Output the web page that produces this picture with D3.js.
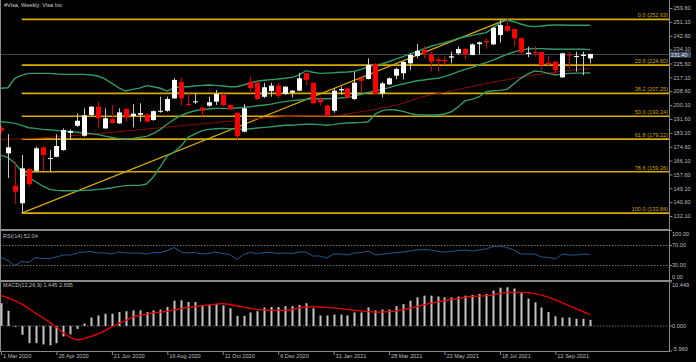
<!DOCTYPE html>
<html><head><meta charset="utf-8">
<script src="https://cdn.jsdelivr.net/npm/d3@7"></script>
<style>html,body{margin:0;padding:0;background:#000;overflow:hidden}svg{display:block}</style>
</head><body><svg id="c" width="696" height="362"></svg>
<script>
const titleText = "#Visa, Weekly:  Visa Inc";
const openP = [186.0,170.5,150.6,139.9,160.9,159.8,174.2,167.0,168.4,172.5,
183.1,187.4,181.3,194.0,199.1,185.8,191.5,188.9,197.7,193.4,
194.2,194.4,190.9,196.0,196.6,204.2,214.2,200.7,201.8,198.5,
199.7,202.2,206.3,200.1,195.4,183.8,214.4,213.8,205.2,208.7,
212.0,206.9,207.7,208.9,219.6,213.8,203.6,199.9,196.6,209.1,
210.4,203.8,216.5,216.1,225.3,207.3,212.8,218.1,219.6,225.7,
230.2,234.0,231.2,228.1,227.7,229.2,231.8,234.5,230.8,237.5,
239.4,237.3,243.0,248.6,246.7,241.2,231.4,232.6,232.6,226.1,
226.7,217.1,231.0,229.6,230.2,228.7];
const highP = [187.5,182.3,165.4,169.5,161.5,174.5,174.8,172.5,182.2,185.8,
185.2,195.0,198.1,199.5,202.2,198.1,200.1,198.1,198.1,200.7,
201.2,195.0,196.9,205.2,205.2,216.7,217.1,207.3,207.3,199.1,
205.2,209.3,207.3,200.5,195.8,200.7,217.5,214.8,213.7,213.8,
213.8,211.8,209.3,219.9,219.9,214.2,205.2,200.3,210.4,211.3,
211.0,220.5,217.0,228.8,225.7,214.2,217.1,223.0,226.9,231.8,
237.5,236.3,232.8,229.8,229.8,232.8,235.9,234.9,237.9,239.0,
241.0,248.2,252.2,252.63,247.1,241.4,235.9,236.3,232.6,230.2,
226.7,232.2,232.8,232.8,232.8,231.6];
const lowP = [182.5,155.4,139.4,133.84,150.0,158.8,159.8,159.2,168.1,172.1,
178.7,186.8,180.7,193.5,186.5,185.5,188.9,188.5,189.9,186.5,
189.9,189.5,190.5,195.4,196.0,203.8,200.1,199.1,200.7,193.0,
199.1,200.1,199.5,197.0,178.7,183.4,207.3,203.2,204.4,205.2,
204.4,206.3,204.8,208.5,212.4,200.5,199.9,193.4,195.4,206.3,
204.0,203.2,208.3,215.8,206.9,204.8,212.4,215.9,215.9,221.6,
228.8,228.7,220.6,220.6,224.7,225.7,230.8,228.1,230.6,231.2,
234.5,236.9,238.5,245.1,235.9,231.2,229.4,229.8,221.6,223.6,
218.5,216.9,222.6,220.6,218.5,225.7];
const closeP = [184.3,174.2,147.0,161.3,151.7,173.6,169.5,167.6,175.0,184.8,
184.2,190.5,193.8,199.1,192.0,192.0,189.1,195.6,192.4,194.8,
195.2,189.9,196.4,196.6,203.8,215.5,204.2,200.1,202.4,196.6,
201.8,206.9,200.1,197.5,181.1,198.1,210.4,203.8,211.0,212.0,
205.8,211.4,208.9,216.5,215.5,201.2,201.8,194.0,208.9,209.9,
204.8,213.8,215.0,224.7,206.9,213.4,216.5,222.2,226.5,230.8,
233.4,231.8,226.7,227.1,226.9,230.0,234.5,231.2,237.3,238.5,
238.5,247.5,249.2,245.7,241.0,232.4,232.2,232.0,224.6,225.1,
221.6,231.8,230.6,230.2,231.0,231.4];
const bbUpper = [210.4,210.7,216.5,218.5,219.5,219.5,219.5,219.5,219.1,218.9,
218.9,218.9,218.9,218.5,217.9,216.1,213.4,210.7,208.7,209.7,
210.5,212.0,211.3,210.4,208.7,210.7,211.3,211.3,211.8,212.2,
212.4,212.2,211.8,211.3,211.3,212.4,213.8,214.7,215.3,215.7,
216.1,216.5,217.1,218.5,221.2,220.2,219.5,219.7,219.9,220.2,
220.4,220.8,222.0,223.6,224.7,225.3,226.8,228.3,229.8,231.3,
232.8,234.5,236.0,237.3,238.3,239.6,241.0,242.0,242.8,243.7,
244.5,247.1,250.6,252.2,251.2,249.8,248.6,248.2,248.6,249.0,
249.2,249.2,249.0,249.0,249.0,249.0];
const bbMid = [189.9,189.5,188.9,187.7,186.2,185.8,185.2,185.0,184.6,184.2,
183.8,183.4,183.0,182.6,182.0,181.1,180.3,179.5,179.3,179.7,
180.3,180.9,182.8,185.2,188.5,191.3,193.8,195.4,196.6,197.3,
197.7,198.1,198.1,197.9,198.3,198.7,199.1,199.7,200.1,200.7,
201.6,202.2,202.8,203.2,203.6,204.0,204.0,204.0,204.2,204.4,
204.8,205.6,206.7,207.9,208.9,209.7,210.8,212.0,213.0,214.0,
215.0,215.5,216.1,216.5,217.5,218.9,220.6,222.0,223.2,224.7,
226.1,227.7,229.4,231.2,232.6,233.8,234.5,234.7,234.7,234.5,
234.3,234.3,234.3,234.3,234.3,234.1];
const bbLower = [169.3,168.0,164.4,159.3,155.8,153.1,150.5,148.4,147.8,147.6,
147.6,147.6,147.8,148.0,148.4,148.8,149.4,150.1,150.7,150.9,
150.9,151.7,156.2,162.3,168.9,171.5,175.0,180.3,182.4,184.4,
185.2,185.6,185.8,185.6,185.4,185.2,185.6,186.0,186.4,186.8,
187.3,187.7,187.7,188.1,188.3,188.3,188.1,187.7,188.1,188.9,
189.1,189.3,189.5,189.9,194.6,196.7,197.3,197.1,196.2,195.0,
194.2,194.0,194.0,194.0,194.6,196.0,199.1,202.8,203.6,205.2,
208.3,208.9,209.1,209.7,213.0,216.5,219.1,221.0,220.6,219.5,
218.5,219.1,219.5,219.7,219.7,219.9];
const maLine = [179.1,179.2,179.3,179.4,179.6,179.8,180.0,180.3,180.6,180.9,
181.2,181.5,181.8,182.2,182.6,183.0,183.4,183.8,184.2,184.6,
185.0,185.4,185.8,186.2,186.6,187.0,187.4,187.8,188.2,188.6,
189.0,189.4,189.8,190.2,190.6,191.0,191.4,191.8,192.2,192.5,
192.8,193.0,193.2,193.3,193.4,193.4,193.4,193.4,193.6,194.0,
194.6,195.3,196.0,196.7,197.5,198.3,199.1,200.0,201.2,202.6,
204.0,205.4,206.3,207.1,207.9,208.8,209.7,210.6,211.5,212.4,
213.3,214.1,214.9,215.7,216.5,217.3,217.9,218.5,219.1,219.7,
220.3,220.8,221.3,221.7,222.1,222.4];
const rsiVals = [46,40,30,38,36,46,44,44,47,51,
51,55,57,58,55,55,53,57,55,55,
55,53,56,56,60,66,57,55,56,53,
54,57,54,52,42,52,56,54,56,56,
54,55,54,57,57,49,49,45,53,53,
51,55,56,59,51,53,54,56,57,59,
61,62,61,58,57,58,60,61,59,61,
63,68,69,66,61,53,53,53,47,46,
43,53,51,51,53,52.04];
const macdHist = [5.4,3.6,-0.2,-2.1,-4.1,-4.1,-4.4,-4.6,-4.1,-2.5,
-2.0,-0.7,0.6,2.0,2.5,2.9,2.9,3.3,3.5,3.7,
3.7,3.3,3.7,3.9,4.5,6.0,6.1,5.7,5.7,4.9,
5.0,5.2,4.9,4.2,2.4,2.4,3.2,3.5,4.4,4.5,
4.5,4.7,4.7,5.0,5.4,4.2,2.5,2.5,2.7,2.7,
2.5,3.2,3.2,4.4,3.7,3.9,3.9,4.7,5.2,6.0,
6.8,7.2,7.2,7.0,6.8,6.8,7.0,7.2,7.4,7.6,
7.6,8.4,9.1,9.2,8.9,7.8,6.5,5.6,4.4,3.3,
2.3,2.0,2.0,1.7,1.7,1.445];
const macdSignal = [7.2,6.7,6.0,5.2,4.1,3.0,2.0,0.9,-0.3,-1.7,
-2.7,-3.3,-3.0,-2.5,-1.9,-1.1,-0.2,0.6,1.3,2.1,
2.5,2.8,3.1,3.3,3.5,3.8,4.1,4.4,4.6,4.8,
5.0,5.2,5.3,5.1,4.8,4.5,4.2,3.9,3.8,3.7,
3.7,3.7,3.9,4.3,4.5,4.6,4.5,4.4,4.3,4.1,
3.9,3.7,3.6,3.4,3.3,3.3,3.4,3.6,3.9,4.2,
4.6,5.0,5.4,5.7,6.0,6.3,6.5,6.8,7.0,7.1,
7.2,7.4,7.7,7.9,8.0,8.0,7.9,7.7,7.3,6.8,
6.2,5.5,4.8,4.1,3.4,2.695];
const priceTicks = [259.60,251.10,242.60,234.10,225.60,217.10,208.60,200.10,191.60,183.10,174.60,166.10,157.60,149.10,140.60,132.10];
const fibLevels = ["0.0","23.6","38.2","50.0","61.8","78.6","100.0"];
const fibPrices = [252.63,224.60,207.25,193.24,179.22,159.26,133.84];
const fibStartIdx = 3, fibEndIdx = 73;
const timeTickIdx = [0,8,16,24,32,40,48,56,64,72,80];
const timeTickLabels = ["1 Mar 2020","26 Apr 2020","21 Jun 2020","16 Aug 2020","11 Oct 2020","6 Dec 2020","31 Jan 2021","28 Mar 2021","23 May 2021","18 Jul 2021","12 Sep 2021"];
const rsiTicks = [100,70,30,0];
const rsiLevels = [70,30];
const macdTicks = [10.449,0,-5.960];
const lastPrice = 231.40;
const rsiLabel = "RSI(14) 52.04";
const macdLabel = "MACD(12,26,9) 1.445 2.695";

const svg = d3.select("#c");
const W = 696, H = 362, R = 669;
const FONT = "'Liberation Sans', Arial, sans-serif";
const FS = 5.6;
const GRID = "#8a8a8a", TXT = "#bdbdbd";

svg.append("rect").attr("width",W).attr("height",H).attr("fill","#000");

const x = d3.scaleLinear().domain([0,85]).range([1.0,590.0]);
const yP = d3.scaleLinear().domain([132.1,259.6]).range([216,8]);
const yR = d3.scaleLinear().domain([0,100]).range([280.5,230.5]);
const yM = d3.scaleLinear().domain([-5.96,10.449]).range([351,282]);
const idx = d3.range(openP.length);

const defs = svg.append("defs");
defs.append("clipPath").attr("id","cm").append("rect").attr("x",0).attr("y",0).attr("width",R).attr("height",229);
const gMain = svg.append("g").attr("clip-path","url(#cm)");

// bid line
gMain.append("line").attr("x1",0).attr("x2",R).attr("y1",Math.round(yP(lastPrice))+0.5).attr("y2",Math.round(yP(lastPrice))+0.5)
  .attr("stroke","#3b4552").attr("stroke-width",1);

// fib lines
const FIB = "#d9aa00";
gMain.selectAll(".fib").data(fibPrices).join("line")
  .attr("x1",x(fibStartIdx)).attr("x2",R).attr("y1",d=>yP(d)).attr("y2",d=>yP(d))
  .attr("stroke",FIB).attr("stroke-width",1.6);
gMain.append("line").attr("x1",x(fibStartIdx)).attr("y1",yP(lowP[fibStartIdx]))
  .attr("x2",x(fibEndIdx)).attr("y2",yP(highP[fibEndIdx])).attr("stroke",FIB).attr("stroke-width",1.3);
gMain.selectAll(".fibt").data(fibPrices).join("text")
  .attr("x",R-1).attr("y",d=>yP(d)-2).attr("text-anchor","end")
  .attr("font-family",FONT).attr("font-size",FS).attr("fill","#c9a200")
  .text((d,i)=>`${fibLevels[i]} (${d.toFixed(2)})`);

// MA
gMain.append("path").datum(idx).attr("fill","none").attr("stroke","#8b0a0a").attr("stroke-width",1)
  .attr("d",d3.line().x(i=>x(i)).y(i=>yP(maLine[i])));
// Bollinger
[bbUpper,bbMid,bbLower].forEach(arr=>{
  gMain.append("path").datum(idx).attr("fill","none").attr("stroke","#2f9a68").attr("stroke-width",1.4)
    .attr("d",d3.line().x(i=>x(i)).y(i=>yP(arr[i])));
});

// candles
const cg = gMain.append("g");
idx.forEach(i=>{
  const up = closeP[i] >= openP[i];
  const cx = Math.round(x(i)) + 0.5;
  const col = up ? "#ffffff" : "#ff0000";
  const wick = up ? "#c8c8c8" : "#d00000";
  cg.append("line").attr("x1",cx).attr("x2",cx).attr("y1",yP(highP[i])).attr("y2",yP(lowP[i]))
    .attr("stroke",wick).attr("stroke-width",1);
  const y1 = yP(Math.max(openP[i],closeP[i])), y2 = yP(Math.min(openP[i],closeP[i]));
  cg.append("rect").attr("x",cx-2.5).attr("width",5).attr("y",y1).attr("height",Math.max(1,y2-y1)).attr("fill",col);
});

// frames
const frame = svg.append("g").attr("stroke",GRID).attr("stroke-width",1).attr("fill","none");
frame.append("line").attr("x1",0.5).attr("x2",0.5).attr("y1",0).attr("y2",351);
frame.append("line").attr("x1",0).attr("x2",R).attr("y1",229.5).attr("y2",229.5);
frame.append("line").attr("x1",0).attr("x2",R).attr("y1",230.5).attr("y2",230.5);
frame.append("line").attr("x1",0).attr("x2",R).attr("y1",280.5).attr("y2",280.5);
frame.append("line").attr("x1",0).attr("x2",R).attr("y1",281.5).attr("y2",281.5);

// price axis
const ax = d3.axisRight(yP).tickValues(priceTicks).tickSize(3).tickPadding(1).tickFormat(d3.format(".2f"));
const ga = svg.append("g").attr("transform",`translate(${R+0.5},0)`).call(ax);
ga.select(".domain").remove();
ga.selectAll("line").attr("stroke",GRID);
ga.selectAll("text").attr("font-family",FONT).attr("font-size",FS).attr("fill",TXT);
// nudge the tick label that sits next to the last-price box so the two do not collide
const lpY = yP(lastPrice);
ga.selectAll(".tick").filter(d=>Math.abs(yP(d)-lpY)<7).select("text").attr("y",-1.3);
svg.append("line").attr("x1",R+0.5).attr("x2",R+0.5).attr("y1",0).attr("y2",351.5).attr("stroke",GRID);

// last price label
svg.append("rect").attr("x",R+1).attr("y",lpY-2.4).attr("width",21).attr("height",6.0).attr("fill","#3e5068");
svg.append("text").attr("x",R+2).attr("y",lpY+0.7).attr("dy","0.35em").attr("font-family",FONT).attr("font-size",5.3)
  .attr("fill","#e8e8e8").text(lastPrice.toFixed(2));

// title
svg.append("text").attr("x",4).attr("y",5.3).attr("dy","0.35em").attr("font-family",FONT).attr("font-size",FS)
  .attr("fill","#d0d0d0").text(titleText);

// RSI
svg.selectAll(".rl").data(rsiLevels).join("line").attr("x1",0).attr("x2",R).attr("y1",d=>yR(d)).attr("y2",d=>yR(d))
  .attr("stroke","#8a8a8a").attr("stroke-width",0.8).attr("stroke-dasharray","1.5,1.5");
svg.append("path").datum(idx).attr("fill","none").attr("stroke","#1f5a90").attr("stroke-width",1)
  .attr("d",d3.line().x(i=>x(i)).y(i=>yR(rsiVals[i])));
svg.append("text").attr("x",3).attr("y",235.7).attr("dy","0.35em").attr("font-family",FONT).attr("font-size",FS)
  .attr("fill",TXT).text(rsiLabel);
const rsiLabY = v => Math.min(Math.max(yR(v),233.7),277.3);
svg.selectAll(".rt").data(rsiTicks).join("text").attr("x",R+3).attr("y",d=>rsiLabY(d)).attr("dy","0.35em")
  .attr("font-family",FONT).attr("font-size",FS).attr("fill",TXT).text(d=>d.toFixed(2));
svg.selectAll(".rtk").data(rsiTicks).join("line").attr("x1",R).attr("x2",R+3).attr("y1",d=>yR(d)).attr("y2",d=>yR(d)).attr("stroke",GRID);

// MACD
svg.append("line").attr("x1",0).attr("x2",R).attr("y1",yM(0)).attr("y2",yM(0))
  .attr("stroke","#8a8a8a").attr("stroke-width",0.8).attr("stroke-dasharray","1.5,1.5");
svg.selectAll(".mh").data(idx).join("rect")
  .attr("x",i=>Math.round(x(i))-0.5).attr("width",2)
  .attr("y",i=>Math.min(yM(0),yM(macdHist[i]))).attr("height",i=>Math.abs(yM(macdHist[i])-yM(0)))
  .attr("fill","#c4c4c4");
svg.append("path").datum(idx).attr("fill","none").attr("stroke","#ee0000").attr("stroke-width",1.3)
  .attr("d",d3.line().curve(d3.curveMonotoneX).x(i=>x(i)).y(i=>yM(macdSignal[i])));
svg.append("text").attr("x",3).attr("y",285.5).attr("dy","0.35em").attr("font-family",FONT).attr("font-size",FS)
  .attr("fill",TXT).text(macdLabel);
const macdLabY = v => Math.min(Math.max(yM(v),285.3),348.8);
svg.selectAll(".mt").data(macdTicks).join("text").attr("x",R+3).attr("y",d=>macdLabY(d)).attr("dy","0.35em")
  .attr("font-family",FONT).attr("font-size",FS).attr("fill",TXT).text(d=>d.toFixed(3));
svg.selectAll(".mtk").data(macdTicks).join("line").attr("x1",R).attr("x2",R+3).attr("y1",d=>yM(d)).attr("y2",d=>yM(d)).attr("stroke",GRID);

// time axis
svg.append("line").attr("x1",0).attr("x2",R+0.5).attr("y1",351.5).attr("y2",351.5).attr("stroke",GRID);
const tx = d3.axisBottom(x).tickValues(timeTickIdx).tickSize(3.5).tickFormat((d,i)=>timeTickLabels[i]);
const gt = svg.append("g").attr("transform","translate(0,351.5)").call(tx);
gt.select(".domain").remove();
gt.selectAll("line").attr("stroke",GRID);
gt.selectAll("text").attr("font-family",FONT).attr("font-size",FS).attr("fill",TXT)
  .attr("text-anchor","start").attr("dx",1.5).attr("y",2.5).attr("dy","0.71em");
</script></body></html>
